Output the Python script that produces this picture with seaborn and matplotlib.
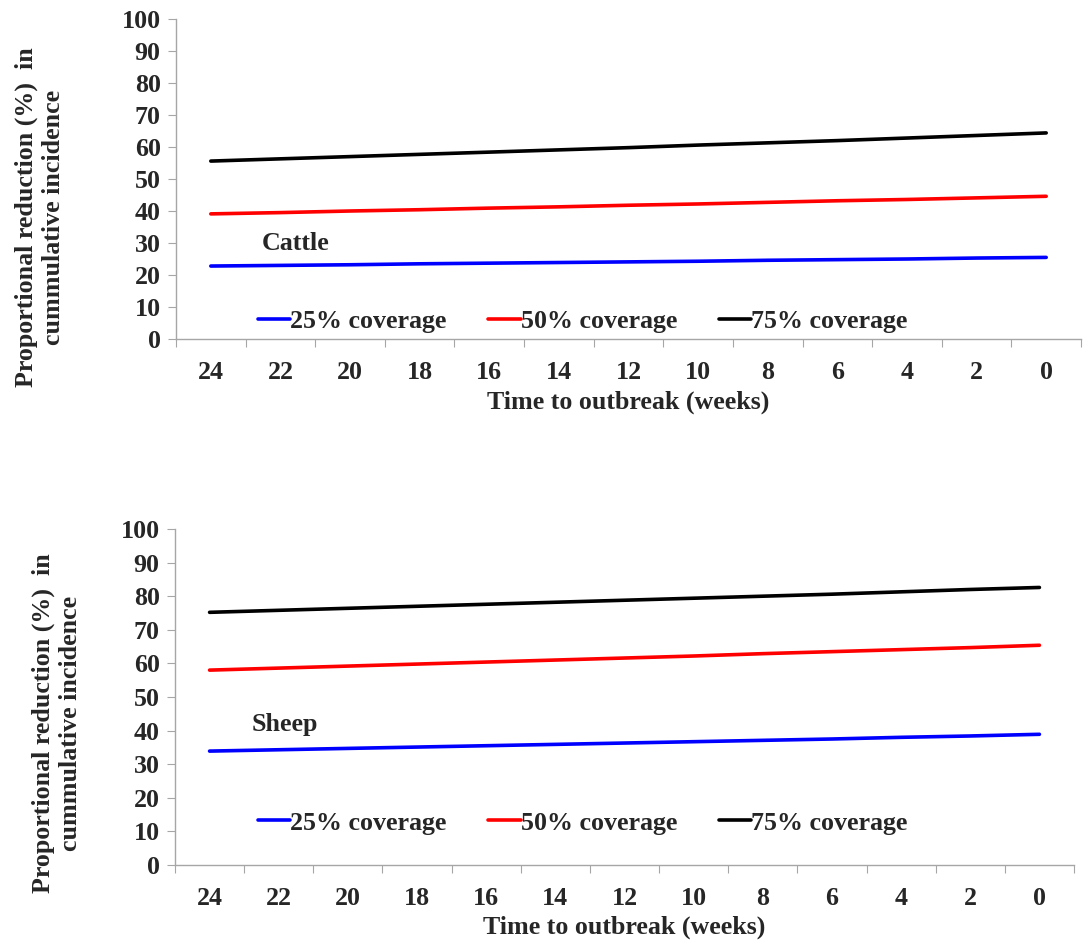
import pandas as pd
import matplotlib
matplotlib.use("Agg")
import matplotlib.pyplot as plt
import seaborn as sns

weeks = [24, 22, 20, 18, 16, 14, 12, 10, 8, 6, 4, 2, 0]
series_names = ["25% coverage", "50% coverage", "75% coverage"]
series_colors = ["#0000ff", "#ff0000", "#000000"]

# Cattle
cattle_25 = [22.8, 23.0, 23.2, 23.5, 23.7, 23.9, 24.1, 24.3, 24.6, 24.8, 25.0, 25.3, 25.5]
cattle_50 = [39.1, 39.5, 40.0, 40.4, 40.9, 41.3, 41.8, 42.2, 42.7, 43.2, 43.6, 44.1, 44.6]
cattle_75 = [55.6, 56.3, 57.0, 57.7, 58.4, 59.1, 59.8, 60.6, 61.3, 62.0, 62.8, 63.6, 64.4]

# Sheep
sheep_25 = [33.9, 34.3, 34.7, 35.1, 35.5, 35.9, 36.3, 36.7, 37.1, 37.5, 38.0, 38.4, 38.9]
sheep_50 = [58.0, 58.6, 59.2, 59.8, 60.4, 61.0, 61.6, 62.2, 62.9, 63.5, 64.1, 64.7, 65.4]
sheep_75 = [75.2, 75.8, 76.4, 77.0, 77.6, 78.2, 78.8, 79.4, 80.0, 80.6, 81.3, 82.0, 82.6]

ylabel = "Proportional reduction (%)  in\ncummulative incidence"
xlabel = "Time to outbreak (weeks)"


def to_long(values):
    rows = []
    for name, vals in zip(series_names, values):
        for w, v in zip(weeks, vals):
            rows.append({"week": w, "value": v, "series": name})
    return pd.DataFrame(rows)


sns.set_style("white")
plt.rcParams["font.family"] = ["Liberation Serif", "DejaVu Serif"]
plt.rcParams["font.weight"] = "bold"

FS = 18.7
fig = plt.figure(figsize=(10.89, 9.43), dpi=100)
W, H = 1089, 943


def draw_panel(rect, values, animal, animal_xy, label_xy, legend_x, legend_y, xlabel_y):
    left, top, right, bottom = rect
    ax = fig.add_axes([left / W, 1 - bottom / H, (right - left) / W, (bottom - top) / H])
    df = to_long(values)
    sns.lineplot(data=df, x="week", y="value", hue="series", palette=series_colors,
                 linewidth=2.6, ax=ax, legend=True)
    ax.set_xlim(25, -1)
    ax.set_ylim(0, 100)
    ax.set_yticks(range(0, 101, 10))
    ax.set_xticks(range(25, -2, -2))
    ax.set_xticklabels([])
    ax.set_xticks(weeks, minor=True)
    ax.set_xticklabels([str(w) for w in weeks], minor=True, fontsize=FS, fontweight="bold")
    ax.tick_params(axis="x", which="major", length=6, color="#a6a6a6", direction="out", bottom=True)
    ax.tick_params(axis="x", which="minor", length=0, pad=16, bottom=True)
    ax.tick_params(axis="y", length=6, color="#a6a6a6", direction="out", left=True, labelsize=FS, pad=5)
    for lbl in ax.get_yticklabels():
        lbl.set_fontweight("bold")
    for s in ["top", "right"]:
        ax.spines[s].set_visible(False)
    for s in ["left", "bottom"]:
        ax.spines[s].set_color("#a6a6a6")
        ax.spines[s].set_linewidth(1.0)
    ax.set_xlabel("")
    ax.set_ylabel("")
    fig.text((left + right) / 2 / W, 1 - xlabel_y / H, xlabel, ha="center", va="center",
             fontsize=FS, fontweight="bold")
    leg = ax.legend(ncol=3, loc="center left", bbox_to_anchor=(legend_x, legend_y), frameon=False,
                    handlelength=1.25, handletextpad=0.0, columnspacing=1.6,
                    borderpad=0, borderaxespad=0,
                    prop={"size": FS, "weight": "bold"})
    for line in leg.get_lines():
        line.set_linewidth(2.6)
    ax.text((animal_xy[0] - left) / (right - left), (bottom - animal_xy[1]) / (bottom - top),
            animal, transform=ax.transAxes, fontsize=FS, fontweight="bold",
            ha="left", va="center")
    fig.text(label_xy[0] / W, 1 - label_xy[1] / H, ylabel, rotation=90, ha="center",
             va="center", multialignment="center", fontsize=FS, fontweight="bold",
             linespacing=1.2)
    return ax


draw_panel((176, 19, 1081, 339), [cattle_25, cattle_50, cattle_75], "Cattle", (262, 244),
           (40, 217), (258 - 176) / 905, (339 - 321) / 320, 402)
draw_panel((175, 529, 1074, 865), [sheep_25, sheep_50, sheep_75], "Sheep", (252, 724),
           (57, 723), (258 - 175) / 899, (865 - 823) / 336, 927)

fig.savefig("out.png", dpi=100)
